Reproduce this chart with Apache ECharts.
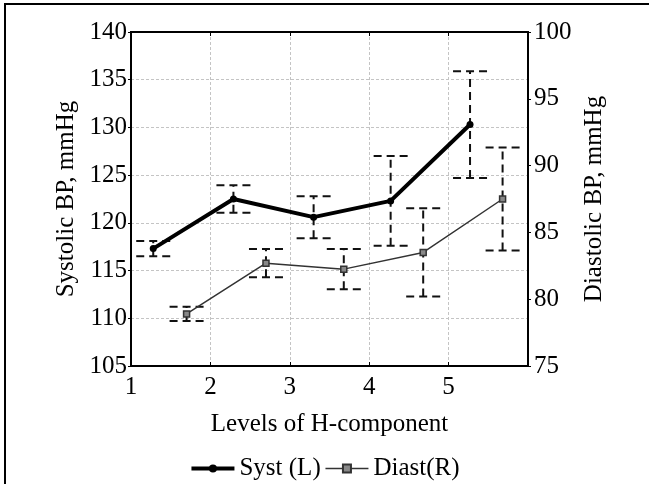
<!DOCTYPE html>
<html lang="en">
<head>
    <meta charset="utf-8"/>
    <title>Systolic / diastolic BP by level</title>
    <script src="https://cdn.jsdelivr.net/npm/echarts@6/dist/echarts.min.js"></script>
    <style>
        html, body { margin: 0; padding: 0; background: #fff; overflow: hidden; width: 649px; height: 484px; }
        #frame { position: absolute; left: 4px; top: 3px; width: 700px; height: 600px; border: 2px solid #000; box-sizing: border-box; }
        #chart { position: absolute; left: 0; top: 0; width: 649px; height: 484px; }
    </style>
</head>
<body>
<div id="frame"></div>
<div id="chart"></div>
<script>
    // levels on x (points are shifted left/right of each level)
    const systX = [1.28, 2.29, 3.3, 4.27, 5.27];
    const systMean = [117.3, 122.5, 120.6, 122.3, 130.3];
    const systErr = [0.8, 1.45, 2.2, 4.7, 5.6];

    const diastX = [1.7, 2.7, 3.68, 4.68, 5.68];
    const diastMean = [78.9, 82.7, 82.25, 83.5, 87.5];
    const diastErr = [0.53, 1.05, 1.5, 3.3, 3.85];

    const xTicks = [1, 2, 3, 4, 5];
    const font = 'Liberation Serif';
    const fs = 25;

    const chart = echarts.init(document.getElementById('chart'));

    function errBar(params, api) {
        const x = api.value(0);
        const lo = api.coord([x, api.value(1)]);
        const hi = api.coord([x, api.value(2)]);
        const half = 17;
        const style = {stroke: '#111', lineWidth: 2, lineDash: [8, 5], fill: null};
        return {
            type: 'group',
            children: [
                {type: 'line', shape: {x1: lo[0], y1: lo[1], x2: hi[0], y2: hi[1]}, style: style},
                {type: 'line', shape: {x1: lo[0] - half, y1: lo[1], x2: lo[0] + half, y2: lo[1]}, style: style},
                {type: 'line', shape: {x1: hi[0] - half, y1: hi[1], x2: hi[0] + half, y2: hi[1]}, style: style}
            ]
        };
    }

    const systPts = systX.map(function (x, i) { return [x, systMean[i]]; });
    const diastPts = diastX.map(function (x, i) { return [x, diastMean[i]]; });
    const systBars = systX.map(function (x, i) { return [x, systMean[i] - systErr[i], systMean[i] + systErr[i]]; });
    const diastBars = diastX.map(function (x, i) { return [x, diastMean[i] - diastErr[i], diastMean[i] + diastErr[i]]; });

    const txt = {fontFamily: font, fontSize: fs, color: '#000'};

    const option = {
        animation: false,
        textStyle: {fontFamily: font},
        grid: {left: 131, top: 32, right: 121, bottom: 118, show: true, borderColor: '#000', borderWidth: 2},
        legend: {
            top: 451,
            left: 'center',
            itemGap: 4,
            itemWidth: 43,
            itemHeight: 10,
            textStyle: {fontFamily: font, fontSize: fs, color: '#000'},
            data: [
                {name: 'Syst (L)', lineStyle: {width: 4, color: '#000'}, textStyle: {fontFamily: font, fontSize: fs, color: '#000'}},
                {name: 'Diast(R)', lineStyle: {width: 1.5, color: '#333'}, textStyle: {fontFamily: font, fontSize: fs, color: '#000'}}
            ]
        },
        xAxis: [{
            type: 'value',
            min: 1, max: 6, interval: 1,
            name: 'Levels of H-component',
            nameLocation: 'middle',
            nameGap: 46,
            nameTextStyle: txt,
            axisLine: {lineStyle: {color: '#000', width: 2}},
            axisTick: {inside: true, length: 4, lineStyle: {color: '#000'}},
            axisLabel: {
                fontFamily: font, fontSize: fs, color: '#000', margin: 9,
                formatter: function (v) { return xTicks.indexOf(v) >= 0 ? String(v) : ''; }
            },
            splitLine: {show: true, lineStyle: {color: '#c4c4c4', type: [3, 2], width: 1}}
        }, {
            type: 'value',
            position: 'top',
            min: 1, max: 6, interval: 1,
            axisLine: {lineStyle: {color: '#000', width: 2}},
            axisTick: {inside: true, length: 4, lineStyle: {color: '#000'}},
            axisLabel: {show: false},
            splitLine: {show: false}
        }],
        yAxis: [{
            type: 'value',
            min: 105, max: 140, interval: 5,
            name: 'Systolic BP, mmHg',
            nameLocation: 'middle',
            nameRotate: 90,
            nameGap: 49,
            nameTextStyle: txt,
            axisLine: {show: true, lineStyle: {color: '#000', width: 2}},
            axisTick: {show: true, length: 3, lineStyle: {color: '#000'}},
            axisLabel: {fontFamily: font, fontSize: fs, color: '#000', margin: 4},
            splitLine: {show: true, lineStyle: {color: '#c4c4c4', type: [3, 2], width: 1}}
        }, {
            type: 'value',
            min: 75, max: 100, interval: 5,
            position: 'right',
            name: 'Diastolic BP, mmHg',
            nameLocation: 'middle',
            nameRotate: 90,
            nameGap: 52,
            nameTextStyle: txt,
            axisLine: {show: true, lineStyle: {color: '#000', width: 2}},
            axisTick: {show: true, length: 3, lineStyle: {color: '#000'}},
            axisLabel: {fontFamily: font, fontSize: fs, color: '#000', margin: 6},
            splitLine: {show: false}
        }],
        series: [{
            name: 'sysErr',
            type: 'custom',
            renderItem: errBar,
            data: systBars,
            encode: {x: 0, y: [1, 2]},
            z: 1
        }, {
            name: 'diaErr',
            type: 'custom',
            yAxisIndex: 1,
            renderItem: errBar,
            data: diastBars,
            encode: {x: 0, y: [1, 2]},
            z: 1
        }, {
            name: 'Syst (L)',
            type: 'line',
            data: systPts,
            symbol: 'circle',
            symbolSize: 7,
            lineStyle: {color: '#000', width: 4},
            itemStyle: {color: '#000'},
            z: 3
        }, {
            name: 'Diast(R)',
            type: 'line',
            yAxisIndex: 1,
            data: diastPts,
            symbol: 'rect',
            symbolSize: 6,
            lineStyle: {color: '#333', width: 1.5},
            itemStyle: {color: '#888', borderColor: '#333', borderWidth: 1.5},
            z: 3
        }]
    };
    chart.setOption(option);
</script>
</body>
</html>
